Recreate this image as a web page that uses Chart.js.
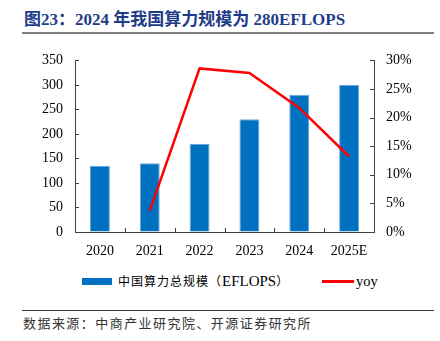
<!DOCTYPE html>
<html><head><meta charset="utf-8">
<script src="https://cdn.jsdelivr.net/npm/chart.js@4/dist/chart.umd.min.js"></script>
<style>
html,body{margin:0;padding:0;background:#fff;width:440px;height:341px;overflow:hidden;position:relative;font-family:"Liberation Serif","Noto Sans CJK SC",serif;}
#title{position:absolute;left:24px;top:9px;font-size:17px;font-weight:bold;color:#1F3C88;white-space:nowrap;line-height:22px;}
#tline{position:absolute;left:22px;top:32px;width:412px;height:2px;background:#808080;}
#wrap{position:absolute;left:0;top:40px;width:440px;height:222px;}
#legend{position:absolute;top:272px;left:0;width:440px;height:18px;}
.lb{position:absolute;left:82px;top:5.5px;width:30px;height:7px;background:#0070C0;}
.lt1{position:absolute;left:118px;top:0;font-size:12px;letter-spacing:1px;color:#000;line-height:18px;white-space:nowrap;}
.lt1 .en{font-size:15px;letter-spacing:0;}
.ll{position:absolute;left:322px;top:8px;width:32px;height:2.5px;background:#FF0000;}
.lt2{position:absolute;left:356px;top:0;font-size:14.5px;color:#000;line-height:18px;}
#fline{position:absolute;left:22px;top:310px;width:412px;height:1px;background:#333;}
#foot{position:absolute;left:23px;top:315px;font-size:13px;letter-spacing:1.45px;color:#333;line-height:17px;white-space:nowrap;}
</style></head>
<body>
<div id="title">图23：2024 年我国算力规模为 280EFLOPS</div>
<div id="tline"></div>
<div id="wrap"><canvas id="c" width="440" height="222"></canvas></div>
<div id="legend">
  <div class="lb"></div><div class="lt1">中国算力总规模（<span class="en">EFLOPS</span>）</div>
  <div class="ll"></div><div class="lt2">yoy</div>
</div>
<div id="fline"></div>
<div id="foot">数据来源：中商产业研究院、开源证券研究所</div>
<script>
const years = ['2020','2021','2022','2023','2024','2025E'];
const computeScale = [135, 140, 180, 230, 280, 300];
const yoyPct = [null, 3.7, 28.6, 27.8, 21.7, 13.2];
const leftTicks = [0, 50, 100, 150, 200, 250, 300, 350];
const rightTicks = [0, 5, 10, 15, 20, 25, 30];

const tickFont = {family: '"Liberation Serif", serif', size: 14};

const innerTicks = {
  id: 'innerTicks',
  afterDraw(chart) {
    const ctx = chart.ctx, a = chart.chartArea;
    ctx.save();
    ctx.strokeStyle = '#404040';
    ctx.lineWidth = 1;
    ctx.beginPath();
    const yl = chart.scales.y;
    yl.ticks.forEach((t, i) => {
      const y = Math.round(yl.getPixelForTick(i)) + 0.5;
      ctx.moveTo(a.left, y); ctx.lineTo(a.left + 4, y);
    });
    const yr = chart.scales.y1;
    yr.ticks.forEach((t, i) => {
      const y = Math.round(yr.getPixelForTick(i)) + 0.5;
      ctx.moveTo(a.right - 4, y); ctx.lineTo(a.right, y);
    });
    const xs = chart.scales.x;
    for (let i = 1; i < years.length; i++) {
      const x = Math.round((xs.getPixelForTick(i - 1) + xs.getPixelForTick(i)) / 2) + 0.5;
      ctx.moveTo(x, a.bottom); ctx.lineTo(x, a.bottom - 4);
    }
    ctx.stroke();
    ctx.restore();
  }
};

new Chart(document.getElementById('c'), {
  data: {
    labels: years,
    datasets: [
      {
        type: 'line', label: 'yoy', data: yoyPct, yAxisID: 'y1', order: 0,
        borderColor: '#FF0000', borderWidth: 2.5, pointRadius: 0, tension: 0, spanGaps: false
      },
      {
        type: 'bar', label: '中国算力总规模（EFLOPS）', data: computeScale, yAxisID: 'y', order: 1,
        backgroundColor: '#0070C0', borderColor: '#6AA6DA',
        borderWidth: {top: 1, left: 1, right: 1, bottom: 0}, borderSkipped: 'bottom',
        categoryPercentage: 1, barPercentage: 0.4
      }
    ]
  },
  options: {
    responsive: false, animation: false,
    layout: {padding: {top: 17, bottom: 0, left: 0, right: 0}},
    plugins: {legend: {display: false}, tooltip: {enabled: false}},
    scales: {
      x: {
        offset: true,
        grid: {drawOnChartArea: false, drawTicks: false},
        border: {display: true, color: '#404040', width: 1},
        ticks: {font: tickFont, color: '#000', padding: 11, maxRotation: 0},
        afterFit(s) { s.height = 30; }
      },
      y: {
        position: 'left', min: 0, max: 350,
        afterBuildTicks(s) { s.ticks = leftTicks.map(v => ({value: v})); },
        grid: {drawOnChartArea: false, drawTicks: false},
        border: {display: true, color: '#404040', width: 1},
        ticks: {font: tickFont, color: '#000', padding: 12},
        afterFit(s) { s.width = 75; }
      },
      y1: {
        position: 'right', min: 0, max: 30,
        afterBuildTicks(s) { s.ticks = rightTicks.map(v => ({value: v})); },
        grid: {drawOnChartArea: false, drawTicks: false},
        border: {display: true, color: '#404040', width: 1},
        ticks: {font: tickFont, color: '#000', padding: 12, callback: v => v + '%'},
        afterFit(s) { s.width = 66; }
      }
    }
  },
  plugins: [innerTicks]
});
</script>
</body></html>
